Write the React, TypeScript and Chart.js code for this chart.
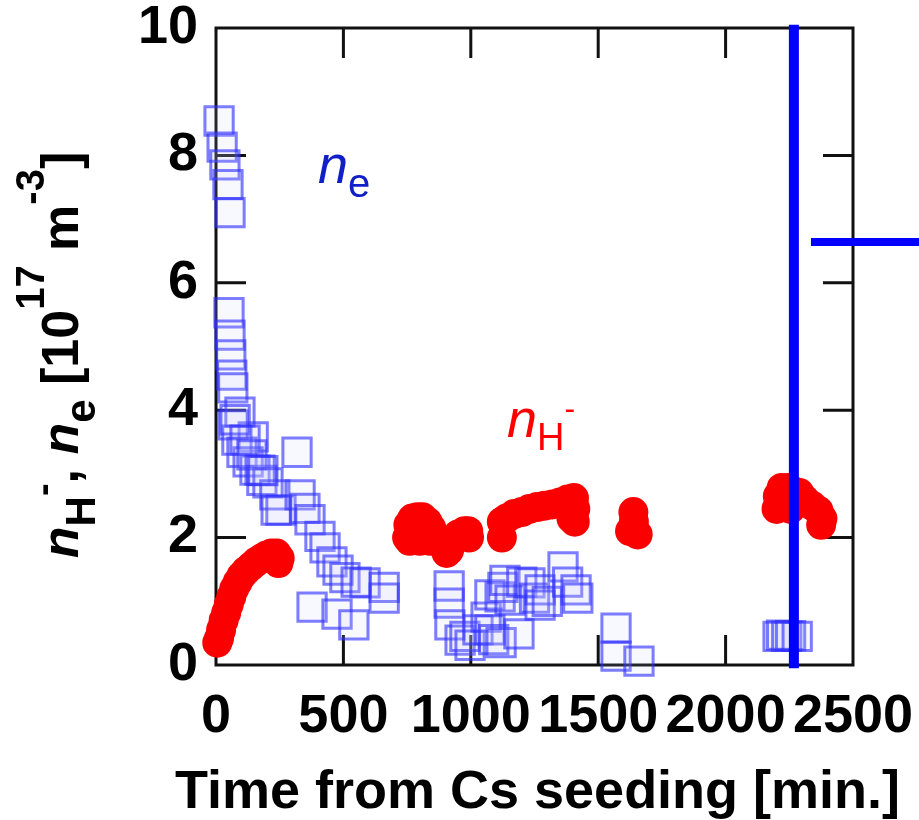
import React, { useEffect, useRef } from 'react';
import { Chart, registerables } from 'chart.js';

Chart.register(...registerables);

const FONT = "'Liberation Sans', Arial, Helvetica, sans-serif";

const X_TICKS = [0, 500, 1000, 1500, 2000, 2500];
const Y_TICKS = [0, 2, 4, 6, 8, 10];
const X_TITLE = 'Time from Cs seeding [min.]';

// n_H- (red filled circles)
const hMinusTime = [
  5, 12, 20, 30, 40, 50, 60, 72, 85, 100, 118, 138, 158, 178, 198, 218, 238, 250, 245,
  750, 755, 770, 790, 810, 830, 845, 760, 800, 840, 870, 895, 905, 915, 930, 950, 975, 990, 993,
  1122, 1122, 1140, 1170, 1200, 1230, 1260, 1290, 1320, 1350, 1380, 1405, 1410, 1408, 1395,
  1625, 1655, 1640, 1638,
  2200, 2205, 2220, 2245, 2270, 2290, 2310, 2340, 2365, 2380, 2375, 2255,
];
const hMinusDensity = [
  0.35, 0.42, 0.55, 0.7, 0.82, 0.95, 1.07, 1.2, 1.3, 1.4, 1.48, 1.55, 1.62, 1.67, 1.72, 1.75, 1.75, 1.68, 1.6,
  2.0, 2.2, 2.3, 2.32, 2.32, 2.25, 2.15, 1.95, 1.95, 1.95, 1.95, 1.85, 1.76, 1.8, 1.95, 2.05, 2.1, 2.1, 2.0,
  2.0, 2.25, 2.3, 2.37, 2.4, 2.45, 2.48, 2.5, 2.52, 2.55, 2.6, 2.62, 2.45, 2.25, 2.3,
  2.1, 2.05, 2.25, 2.4,
  2.45, 2.65, 2.78, 2.78, 2.72, 2.7, 2.6, 2.5, 2.42, 2.3, 2.2, 2.45,
];

// n_e (blue open squares)
const eTime = [
  12, 24, 35, 47, 55,
  51, 55, 58, 62, 66, 94, 146,
  67, 82, 102, 126, 153, 180,
  75, 114, 141, 173, 204, 231, 255,
  184, 236, 318, 330, 349, 369, 408, 428, 455, 479, 506, 550, 585, 660, 660, 377, 475, 541,
  915, 915, 918, 958, 977, 997, 1028, 1060, 1075, 1075, 1090, 1115, 1119, 1126, 1134, 1154, 1189,
  1200, 1232, 1250, 1272, 1272, 1300, 1362, 1380, 1413, 1420,
  1570, 1570, 1660,
  2206, 2220, 2240, 2255, 2281,
];
const eDensity = [
  8.54, 8.13, 7.85, 7.54, 7.1,
  5.53, 5.18, 4.87, 4.55, 4.35, 3.97, 3.58,
  3.77, 3.53, 3.34, 3.19, 3.06, 2.9,
  3.85, 3.53, 3.3, 3.06, 2.86, 2.67, 2.43,
  3.05, 2.43, 3.34, 2.67, 2.46, 2.28, 2.02, 1.84, 1.62, 1.49, 1.37, 1.3, 1.29, 1.22, 1.05, 0.91, 0.8, 0.63,
  1.24, 0.97, 0.63, 0.39, 0.45, 0.31, 0.55, 0.75, 1.1, 0.55, 0.4, 1.07, 0.35, 1.22, 1.33, 1.02, 0.49,
  1.3, 1.29, 1.05, 1.18, 0.94, 1.0, 1.54, 1.3, 1.18, 1.05,
  0.58, 0.14, 0.06,
  0.45, 0.47, 0.45, 0.46, 0.45,
];

// blue reference lines
const vLineTime = [2268, 2268];
const vLineValue = [-0.05, 10.05];
const hLineTime = [2335, 2760];
const hLineValue = [6.64, 6.64];

const toPoints = (xs: number[], ys: number[]) => xs.map((x, i) => ({ x, y: ys[i] }));

const framePlugin = {
  id: 'frameTicks',
  beforeDatasetsDraw(chart: any) {
    const { ctx, chartArea: a, scales } = chart;
    const x = scales.x, y = scales.y;
    const L = 30;
    ctx.save();
    ctx.strokeStyle = '#111';
    ctx.lineWidth = 3;
    ctx.strokeRect(a.left, a.top, a.right - a.left, a.bottom - a.top);
    ctx.beginPath();
    X_TICKS.forEach((v, i) => {
      if (i === 0 || i === X_TICKS.length - 1) return;
      const px = x.getPixelForValue(v);
      ctx.moveTo(px, a.bottom); ctx.lineTo(px, a.bottom - L);
      ctx.moveTo(px, a.top); ctx.lineTo(px, a.top + L);
    });
    Y_TICKS.forEach((v, i) => {
      if (i === 0 || i === Y_TICKS.length - 1) return;
      const py = y.getPixelForValue(v);
      ctx.moveTo(a.left, py); ctx.lineTo(a.left + L, py);
      ctx.moveTo(a.right, py); ctx.lineTo(a.right - L, py);
    });
    ctx.stroke();
    ctx.restore();
  },
};

type Seg = { t: string; size: number; italic?: boolean; bold?: boolean; shift?: number };

function fontOf(s: Seg) {
  return `${s.italic ? 'italic ' : ''}${s.bold ? 'bold ' : ''}${s.size}px ${FONT}`;
}

function drawSegs(ctx: CanvasRenderingContext2D, segs: Seg[], x0: number, y0: number, color: string) {
  let x = x0;
  ctx.fillStyle = color;
  ctx.textBaseline = 'alphabetic';
  ctx.textAlign = 'left';
  for (const s of segs) {
    ctx.font = fontOf(s);
    ctx.fillText(s.t, x, y0 + (s.shift || 0));
    x += ctx.measureText(s.t).width;
  }
}

function segsWidth(ctx: CanvasRenderingContext2D, segs: Seg[]) {
  let w = 0;
  for (const s of segs) {
    ctx.font = fontOf(s);
    w += ctx.measureText(s.t).width;
  }
  return w;
}

const Y_TITLE: Seg[] = [
  { t: 'n', size: 52, italic: true, bold: true },
  { t: 'H', size: 42, bold: true, shift: 17 },
  { t: '-', size: 38, bold: true, shift: -22 },
  { t: ', ', size: 52, bold: true },
  { t: 'n', size: 52, italic: true, bold: true },
  { t: 'e', size: 42, bold: true, shift: 17 },
  { t: ' [10', size: 52, bold: true },
  { t: '17', size: 40, bold: true, shift: -34 },
  { t: ' m', size: 52, bold: true },
  { t: '-3', size: 40, bold: true, shift: -34 },
  { t: ']', size: 52, bold: true },
];

const NE_LABEL: Seg[] = [
  { t: 'n', size: 54, italic: true },
  { t: 'e', size: 40, shift: 14 },
];
const NH_LABEL: Seg[] = [
  { t: 'n', size: 54, italic: true },
  { t: 'H', size: 38, shift: 13 },
  { t: '-', size: 32, shift: -18 },
];

const labelsPlugin = {
  id: 'labels',
  afterDraw(chart: any) {
    const { ctx, scales, chartArea: a } = chart;
    const x = scales.x, y = scales.y;
    ctx.save();
    // rotated y-axis title
    const w = segsWidth(ctx, Y_TITLE);
    ctx.translate(78, 355);
    ctx.rotate(-Math.PI / 2);
    drawSegs(ctx, Y_TITLE, -w / 2, 0, '#000');
    ctx.restore();
    ctx.save();
    // x-axis title (drawn without width compression)
    ctx.font = `bold 54px ${FONT}`;
    ctx.fillStyle = '#000';
    ctx.textAlign = 'center';
    ctx.textBaseline = 'alphabetic';
    ctx.fillText(X_TITLE, (a.left + a.right) / 2 + 3, 808);
    ctx.restore();
    ctx.save();
    drawSegs(ctx, NE_LABEL, x.getPixelForValue(400), y.getPixelForValue(7.57), '#1020c8');
    drawSegs(ctx, NH_LABEL, x.getPixelForValue(1142), y.getPixelForValue(3.58), '#ff0000');
    ctx.restore();
  },
};

export default function App() {
  const ref = useRef<HTMLCanvasElement | null>(null);
  useEffect(() => {
    if (!ref.current) return;
    const tickFont = { family: FONT, size: 54, weight: 'bold' as const, lineHeight: 1 };
    const chart = new Chart(ref.current, {
      type: 'scatter',
      data: {
        datasets: [
          {
            label: 'vline',
            data: toPoints(vLineTime, vLineValue),
            showLine: true,
            borderColor: '#0000ff',
            borderWidth: 10,
            pointRadius: 0,
            clip: false,
            order: 0,
          } as any,
          {
            label: 'hline',
            data: toPoints(hLineTime, hLineValue),
            showLine: true,
            borderColor: '#0000ff',
            borderWidth: 8,
            pointRadius: 0,
            clip: false,
            order: 0,
          } as any,
          {
            label: 'ne',
            data: toPoints(eTime, eDensity),
            pointStyle: 'rect',
            pointRadius: 20,
            borderWidth: 3,
            borderColor: 'rgba(45,45,255,0.62)',
            backgroundColor: 'rgba(200,200,255,0.12)',
            clip: false,
            order: 1,
          } as any,
          {
            label: 'nH-',
            data: toPoints(hMinusTime, hMinusDensity),
            pointStyle: 'circle',
            pointRadius: 15,
            borderWidth: 0,
            backgroundColor: '#fa0000',
            clip: false,
            order: 2,
          } as any,
        ],
      },
      options: {
        animation: false,
        responsive: false,
        devicePixelRatio: 1,
        events: [],
        layout: { padding: { left: 0, top: 28, right: 66, bottom: 0 } },
        plugins: { legend: { display: false }, tooltip: { enabled: false } },
        scales: {
          x: {
            type: 'linear',
            min: 0,
            max: 2500,
            afterBuildTicks: (s: any) => { s.ticks = X_TICKS.map((v) => ({ value: v })); },
            afterFit: (s: any) => { s.height = 155; s.paddingLeft = 0; s.paddingRight = 0; },
            ticks: {
              autoSkip: false, maxRotation: 0, minRotation: 0, font: tickFont, color: '#000', padding: 25,
              callback: (v: any) => String(v),
            },
            grid: { display: false, drawTicks: false },
            border: { display: false },
          },
          y: {
            type: 'linear',
            min: 0,
            max: 10,
            afterBuildTicks: (s: any) => { s.ticks = Y_TICKS.map((v) => ({ value: v })); },
            afterFit: (s: any) => { s.width = 216; s.paddingTop = 0; s.paddingBottom = 0; },
            ticks: { font: tickFont, color: '#000', padding: 18, callback: (v: any) => String(v) },
            grid: { display: false, drawTicks: false },
            border: { display: false },
          },
        },
      },
      plugins: [framePlugin, labelsPlugin],
    } as any);
    return () => chart.destroy();
  }, []);
  return (
    <div style={{ position: 'fixed', left: 0, top: 0, width: 919, height: 820, background: '#fff' }}>
      <canvas ref={ref} width={919} height={820} style={{ width: 919, height: 820, display: 'block' }} />
    </div>
  );
}
